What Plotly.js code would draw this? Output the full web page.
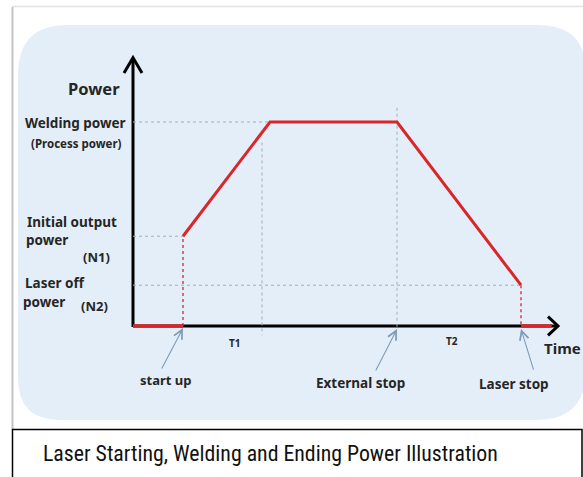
<!DOCTYPE html>
<html>
<head>
<meta charset="utf-8">
<script src="https://cdn.plot.ly/plotly-3.0.1.min.js"></script>
<style>
html,body{margin:0;padding:0;background:#fff;}
#chart{width:583px;height:477px;}
</style>
</head>
<body>
<div id="chart"></div>
<script>
// ---- data (time in arbitrary units, power in % of welding power) ----
const offTime = [0, 2.0];            // laser idle before start up
const offPower = [0, 0];
const startTime = 2.0;               // start up
const t1Mark = 5.16;                 // T1 marker
const rampTime = [2.0, 5.48, 10.56, 15.52];
const rampPower = [44, 100, 100, 20];
const extStopTime = 10.56;           // external stop
const laserStopTime = 15.52;         // laser stop
const tailTime = [15.52, 16.75];
const tailPower = [0, 0];
const weldingPower = 100;
const initialPower = 44;             // N1
const laserOffPower = 20;            // N2

// ---- helpers for page-pixel placement ----
const W = 583, H = 477;
const PX = p => p / W;
const PY = p => 1 - p / H;

const RED = '#d9262b';
const GRID = '#a3aebb';
const TXT = '#262626';
const FONT = 'Noto Sans, DejaVu Sans, sans-serif';

const traces = [
  // gray guide lines
  {x:[0, rampTime[1]], y:[weldingPower, weldingPower], mode:'lines', line:{color:GRID, width:1, dash:'dot'}},
  {x:[0, startTime], y:[initialPower, initialPower], mode:'lines', line:{color:GRID, width:1, dash:'dot'}},
  {x:[0, laserStopTime], y:[laserOffPower, laserOffPower], mode:'lines', line:{color:GRID, width:1, dash:'dot'}},
  {x:[t1Mark, t1Mark], y:[90, -4.5], mode:'lines', line:{color:GRID, width:1, dash:'dot'}},
  {x:[extStopTime, extStopTime], y:[107, -2], mode:'lines', line:{color:GRID, width:1, dash:'dot'}},
  // red dotted jumps
  {x:[startTime, startTime], y:[0, initialPower], mode:'lines', line:{color:RED, width:1.3, dash:'dot'}},
  {x:[laserStopTime, laserStopTime], y:[laserOffPower, 0], mode:'lines', line:{color:RED, width:1.3, dash:'dot'}},
  // red power curve
  {x:offTime, y:offPower, mode:'lines', line:{color:RED, width:3.5}},
  {x:rampTime, y:rampPower, mode:'lines', line:{color:RED, width:3}},
  {x:tailTime, y:tailPower, mode:'lines', line:{color:RED, width:3.5}}
];

const panel = `M ${PX(18)},${PY(75)} Q ${PX(18)},${PY(25)} ${PX(68)},${PY(25)} L ${PX(538)},${PY(25)} Q ${PX(586)},${PY(25)} ${PX(586)},${PY(73)} L ${PX(586)},${PY(370)} Q ${PX(586)},${PY(420)} ${PX(536)},${PY(420)} L ${PX(60)},${PY(420)} Q ${PX(18)},${PY(420)} ${PX(18)},${PY(378)} Z`;

const shapes = [
  {type:'line', xref:'paper', yref:'paper', x0:PX(12), x1:PX(583), y0:PY(6.5), y1:PY(6.5), line:{color:'#e2e2e2', width:1.5}, layer:'below'},
  {type:'line', xref:'paper', yref:'paper', x0:PX(12.5), x1:PX(12.5), y0:PY(7), y1:PY(430), line:{color:'#c4c4c4', width:2}, layer:'below'},
  {type:'path', xref:'paper', yref:'paper', path:panel, fillcolor:'#e4eef9', line:{width:0}, layer:'below'},
  // axes
  {type:'line', xref:'x', yref:'y', x0:0, x1:0, y0:-0.5, y1:131, line:{color:'#000', width:3}, layer:'below'},
  {type:'line', xref:'x', yref:'y', x0:0, x1:16.95, y0:0, y1:0, line:{color:'#000', width:3}, layer:'below'},
  {type:'path', xref:'x', yref:'y', path:'M -0.36,124 L 0,131.5 L 0.36,124', line:{color:'#000', width:3}, layer:'below'},
  {type:'path', xref:'x', yref:'y', path:'M 16.6,4.6 L 17.0,0 L 16.6,-4.6', line:{color:'#000', width:3}},
  // caption box
  {type:'rect', xref:'paper', yref:'paper', x0:PX(12.5), x1:PX(582), y0:PY(429.5), y1:PY(480), line:{color:'#000', width:1.5}, fillcolor:'#fff', layer:'below'}
];

function lab(text, x, y, size, opts) {
  return Object.assign({text:text, xref:'paper', yref:'paper', x:PX(x), y:PY(y), showarrow:false,
    xanchor:'center', yanchor:'middle', font:{family:FONT, size:size, color:TXT, weight:'bold'}}, opts||{});
}
function arrow(tipX, tipY, tailDx, tailDy) {
  return {text:'', x:tipX, y:tipY, xref:'x', yref:'y', ax:tailDx, ay:tailDy, showarrow:true,
    arrowhead:5, arrowsize:1.6, arrowwidth:1.1, arrowcolor:'#7d9bb8', standoff:0};
}

const annotations = [
  lab('Power', 94, 88, 16.5),
  lab('Welding power', 75, 123, 13.5),
  lab('(Process power)', 76, 143, 11.5),
  lab('Initial output', 72, 222, 13.5),
  lab('power', 47, 240, 13.5),
  lab('(N1)', 96, 257, 13),
  lab('Laser off', 55, 283, 13.5),
  lab('power', 44, 302, 13.5),
  lab('(N2)', 94, 306, 13),
  lab('T1', 235, 343, 10),
  lab('T2', 452, 341, 10),
  lab('start up', 165, 380, 13),
  lab('External stop', 360, 383, 13.5),
  lab('Laser stop', 514, 384, 13.5),
  lab('Time', 542, 348, 15, {xanchor:'left'}),
  arrow(startTime, -1, -22, 42),
  arrow(extStopTime, -1.5, -22, 43),
  arrow(laserStopTime, -1.5, 13, 42),
  {text:'Laser Starting, Welding and Ending Power Illustration', xref:'paper', yref:'paper', x:PX(270), y:PY(453),
   showarrow:false, xanchor:'center', yanchor:'middle',
   font:{family:'Liberation Sans Narrow, Roboto Condensed, Roboto, sans-serif', size:21.8, color:'#111'}}
];

const layout = {
  width:W, height:H,
  margin:{l:0, r:0, t:0, b:0},
  paper_bgcolor:'#fff', plot_bgcolor:'rgba(0,0,0,0)',
  showlegend:false,
  xaxis:{range:[-5.32, 18.0], visible:false, fixedrange:true},
  yaxis:{range:[-74.02, 159.8], visible:false, fixedrange:true},
  shapes:shapes,
  annotations:annotations
};

Plotly.newPlot('chart', traces, layout, {displayModeBar:false, staticPlot:true});
</script>
</body>
</html>
